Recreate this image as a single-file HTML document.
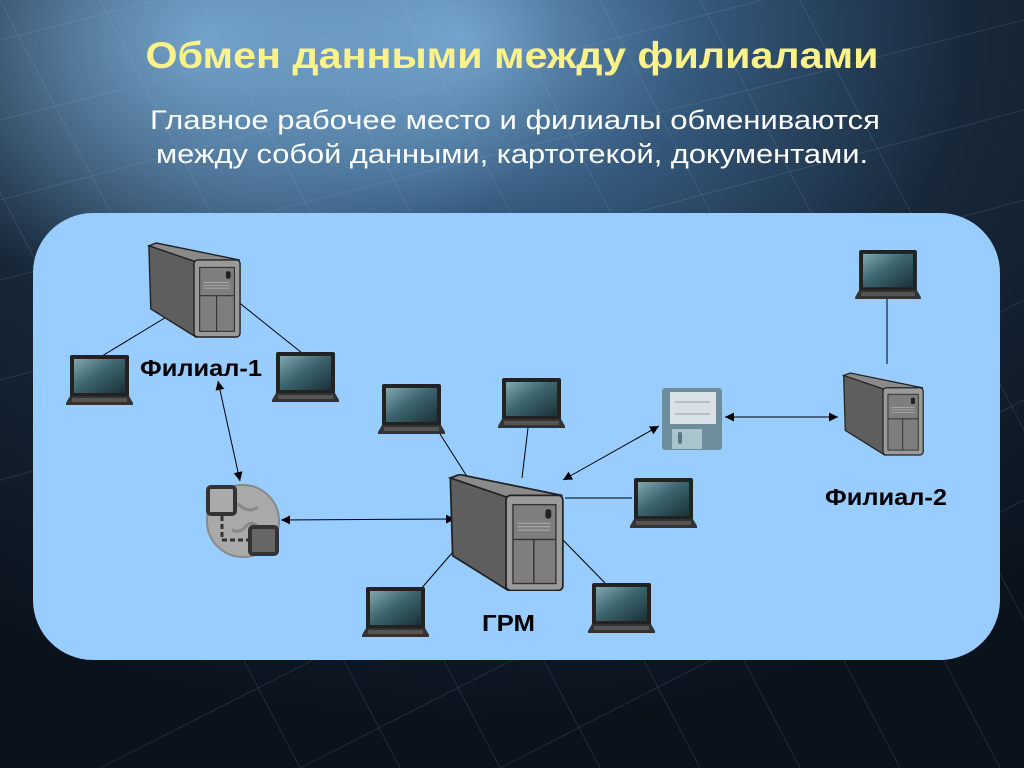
<!DOCTYPE html>
<html><head><meta charset="utf-8"><style>
html,body{margin:0;padding:0;background:#0b1420;}
svg{display:block}
</style></head><body>
<svg width="1024" height="768" viewBox="0 0 1024 768" xmlns="http://www.w3.org/2000/svg">
<defs>
<radialGradient id="bg" cx="0.45" cy="0.05" r="0.9">
<stop offset="0" stop-color="#6d9cc4"/><stop offset="0.25" stop-color="#355a7e"/><stop offset="0.55" stop-color="#18283a"/><stop offset="1" stop-color="#0a121c"/>
</radialGradient>
<radialGradient id="glow" cx="0.2" cy="0.05" r="0.35">
<stop offset="0" stop-color="#8fc4ee" stop-opacity="0.7"/><stop offset="1" stop-color="#8fc4ee" stop-opacity="0"/>
</radialGradient>
<linearGradient id="scr" x1="0" y1="0" x2="1" y2="1">
<stop offset="0" stop-color="#7fa8ae"/><stop offset="0.45" stop-color="#3d6670"/><stop offset="1" stop-color="#1b3036"/>
</linearGradient>
<symbol id="lap" viewBox="0 0 67 50">
<rect x="4" y="0" width="59" height="42" rx="2" fill="#222"/>
<rect x="8" y="4" width="51" height="34" fill="url(#scr)"/>
<path d="M4 41 L63 41 L67 48 L67 50 L0 50 L0 48 Z" fill="#333"/>
<rect x="6" y="43" width="55" height="4" fill="#555"/>
</symbol>
<symbol id="srv" viewBox="0 0 100 100">
<path d="M2 3 L10 0 L98 18 L98 20 L52 22 Z" fill="#8a8a8a" stroke="#222" stroke-width="1.5"/>
<path d="M2 3 L52 20 L52 100 L4 70 Z" fill="#5e5e5e" stroke="#222" stroke-width="1.5"/>
<rect x="50" y="18" width="49" height="82" rx="4" fill="#9a9a9a" stroke="#222" stroke-width="1.5"/>
<rect x="56" y="26" width="37" height="68" fill="#7e7e7e" stroke="#333" stroke-width="1.2"/>
<line x1="56" y1="56" x2="93" y2="56" stroke="#333" stroke-width="1.2"/>
<line x1="74" y1="56" x2="74" y2="94" stroke="#333" stroke-width="1.2"/>
<g stroke="#aaa" stroke-width="1"><line x1="60" y1="42" x2="88" y2="42"/><line x1="60" y1="45" x2="88" y2="45"/><line x1="60" y1="48" x2="88" y2="48"/></g>
<rect x="84" y="30" width="5" height="8" rx="2" fill="#222"/>
</symbol>
<marker id="ah" viewBox="0 0 10 10" refX="10" refY="5" markerWidth="9" markerHeight="9" orient="auto-start-reverse" markerUnits="userSpaceOnUse"><path d="M0 0 L10 5 L0 10 Z" fill="#000"/></marker>
</defs>
<rect width="1024" height="768" fill="url(#bg)"/>
<rect width="1024" height="768" fill="url(#glow)"/>
<g stroke="#a8c4dc" stroke-opacity="0.14" stroke-width="1">
<path d="M0 40 L400 -60 M0 120 L600 -30 M0 200 L800 -10 M0 280 L1024 20 M0 380 L1024 110 M0 480 L1024 200 M100 768 L1024 300 M300 768 L1024 400 M500 768 L1024 500"/>
<path d="M100 0 L500 768 M200 0 L600 768 M300 0 L700 768 M400 0 L800 768 M500 0 L900 768 M600 0 L1000 768 M700 0 L1024 620 M800 0 L1024 430 M0 0 L400 768 M-100 0 L300 768"/>
</g>
<text x="512" y="68" text-anchor="middle" textLength="733" lengthAdjust="spacingAndGlyphs" font-family="Liberation Sans, sans-serif" font-weight="bold" font-size="37" fill="#fbf28a">Обмен данными между филиалами</text>
<text x="515" y="129" text-anchor="middle" textLength="730" lengthAdjust="spacingAndGlyphs" font-family="Liberation Sans, sans-serif" font-size="27" fill="#fff">Главное рабочее место и филиалы обмениваются</text>
<text x="512" y="163" text-anchor="middle" textLength="712" lengthAdjust="spacingAndGlyphs" font-family="Liberation Sans, sans-serif" font-size="27" fill="#fff">между собой данными, картотекой, документами.</text>
<rect x="33" y="213" width="967" height="447" rx="60" fill="#99ccff"/>
<g stroke="#000" stroke-width="1" fill="none">
<line x1="168" y1="316" x2="102" y2="356"/>
<line x1="237" y1="301" x2="302" y2="353"/>
<line x1="440" y1="434" x2="468" y2="478"/>
<line x1="528" y1="428" x2="522" y2="478"/>
<line x1="565" y1="498" x2="632" y2="498"/>
<line x1="563" y1="540" x2="605" y2="583"/>
<line x1="452" y1="553" x2="420" y2="590"/>
<line x1="887" y1="298" x2="887" y2="364"/>
<line x1="218" y1="381" x2="240" y2="481" marker-start="url(#ah)" marker-end="url(#ah)"/>
<line x1="281" y1="520" x2="455" y2="519" marker-start="url(#ah)" marker-end="url(#ah)"/>
<line x1="563" y1="480" x2="659" y2="426" marker-start="url(#ah)" marker-end="url(#ah)"/>
<line x1="725" y1="417" x2="838" y2="417" marker-start="url(#ah)" marker-end="url(#ah)"/>
</g>
<use href="#srv" x="147" y="242" width="94" height="96" preserveAspectRatio="none"/>
<use href="#srv" x="448" y="474" width="116" height="117" preserveAspectRatio="none"/>
<use href="#srv" x="842" y="362" width="82" height="104" preserveAspectRatio="none"/>
<use href="#lap" x="66" y="355" width="67" height="50"/>
<use href="#lap" x="272" y="352" width="67" height="50"/>
<use href="#lap" x="378" y="384" width="67" height="50"/>
<use href="#lap" x="498" y="378" width="67" height="50"/>
<use href="#lap" x="630" y="478" width="67" height="50"/>
<use href="#lap" x="362" y="587" width="67" height="50"/>
<use href="#lap" x="588" y="583" width="67" height="50"/>
<use href="#lap" x="855" y="250" width="66" height="49"/>
<rect x="662" y="388" width="60" height="62" rx="3" fill="#6e8d9c"/>
<rect x="670" y="392" width="46" height="32" fill="#d8e2e6"/>
<line x1="675" y1="402" x2="710" y2="402" stroke="#99a" stroke-width="1"/>
<line x1="675" y1="414" x2="710" y2="414" stroke="#99a" stroke-width="1"/>
<rect x="672" y="429" width="30" height="20" fill="#aac4cc"/>
<rect x="678" y="432" width="4" height="12" rx="2" fill="#5a7682"/>
<circle cx="243" cy="521" r="36" fill="#a9a9a9" stroke="#888" stroke-width="2"/>
<path d="M222 505 q10 -6 20 2 q8 6 16 0 M232 530 q8 4 14 -4 q6 -6 14 2" stroke="#888" stroke-width="3" fill="none"/>
<path d="M222 508 L222 540 L260 540" stroke="#333" stroke-width="3" stroke-dasharray="5 3" fill="none"/>
<rect x="208" y="487" width="27" height="27" rx="3" fill="#aaa" stroke="#333" stroke-width="4"/>
<rect x="250" y="527" width="27" height="27" rx="3" fill="#666" stroke="#333" stroke-width="4"/>
<g font-family="Liberation Sans, sans-serif" font-weight="bold" font-size="23" fill="#000">
<text x="140" y="376" textLength="122" lengthAdjust="spacingAndGlyphs">Филиал-1</text>
<text x="825" y="505" textLength="122" lengthAdjust="spacingAndGlyphs">Филиал-2</text>
<text x="482" y="631" textLength="53" lengthAdjust="spacingAndGlyphs">ГРМ</text>
</g>
</svg>
</body></html>
